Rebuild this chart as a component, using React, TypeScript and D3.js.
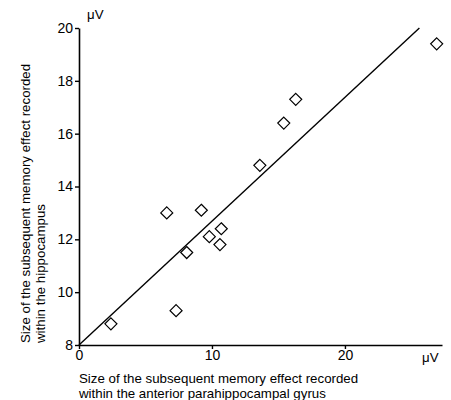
import { useEffect, useRef } from "react";
import * as d3 from "d3";

// parahippocampal effect (x) vs hippocampal effect (y), in μV
const parahipp = [2.4, 7.3, 6.6, 8.1, 9.2, 9.8, 10.7, 10.6, 13.6, 15.4, 16.3, 26.9];
const hippo = [8.8, 9.3, 13.0, 11.5, 13.1, 12.1, 12.4, 11.8, 14.8, 16.4, 17.3, 19.4];
const fitLine = [
  { x: 0, y: 8 },
  { x: 25.6, y: 20 },
];
const xTicks = [0, 10, 20];
const yTicks = [8, 10, 12, 14, 16, 18, 20];

const App = () => {
  const svgRef = useRef<SVGSVGElement>(null);

  useEffect(() => {
    const svg = d3.select(svgRef.current);
    svg.selectAll("*").remove();

    const font = "Liberation Sans, Arial, sans-serif";
    const x = d3.scaleLinear().domain([0, 27.3]).range([79, 442]);
    const y = d3.scaleLinear().domain([8, 20]).range([345, 28]);

    const g = svg.append("g").style("font-family", font).style("font-size", "13.3px");

    // regression line
    g.append("path")
      .attr(
        "d",
        d3
          .line<{ x: number; y: number }>()
          .x((d) => x(d.x))
          .y((d) => y(d.y))(fitLine)
      )
      .attr("stroke", "#000")
      .attr("stroke-width", 1.4)
      .attr("fill", "none");

    // y axis
    const yAxis = g
      .append("g")
      .attr("transform", `translate(${x(0)},0)`)
      .call(d3.axisLeft(y).tickValues(yTicks).tickSize(4).tickPadding(2).tickSizeOuter(0));
    yAxis.select(".domain").attr("stroke-width", 1.6);
    yAxis.selectAll("line").attr("stroke-width", 1.4);
    yAxis.selectAll("text").style("font-family", font).style("font-size", "14px").attr("fill", "#000");

    // x axis
    const xAxis = g
      .append("g")
      .attr("transform", `translate(0,${y(8)})`)
      .call(d3.axisBottom(x).tickValues(xTicks).tickSize(4).tickPadding(1).tickSizeOuter(0));
    xAxis.select(".domain").attr("stroke-width", 1.6);
    xAxis.selectAll("line").attr("stroke-width", 1.4);
    xAxis.selectAll("text").style("font-family", font).style("font-size", "14px").attr("fill", "#000");

    // unit labels
    g.append("text").attr("x", 87).attr("y", 19).text("μV");
    g.append("text").attr("x", 422).attr("y", 362).text("μV");

    // data points as diamonds
    const r = 6;
    g.selectAll(".pt")
      .data(parahipp.map((v, i) => ({ x: v, y: hippo[i] })))
      .enter()
      .append("path")
      .attr("class", "pt")
      .attr("d", (d) => {
        const cx = x(d.x);
        const cy = y(d.y);
        return `M${cx},${cy - r}L${cx + r},${cy}L${cx},${cy + r}L${cx - r},${cy}Z`;
      })
      .attr("fill", "#fff")
      .attr("stroke", "#000")
      .attr("stroke-width", 1.2);

    // x axis title
    g.append("text").attr("x", 79).attr("y", 383).text("Size of the subsequent memory effect recorded");
    g.append("text").attr("x", 79).attr("y", 398).text("within the anterior parahippocampal gyrus");

    // y axis title
    g.append("text")
      .attr("transform", "translate(30,343) rotate(-90)")
      .text("Size of the subsequent memory effect recorded");
    g.append("text")
      .attr("transform", "translate(45,343) rotate(-90)")
      .text("within the hippocampus");
  }, []);

  return (
    <svg
      ref={svgRef}
      width={451}
      height={400}
      style={{ position: "absolute", left: 0, top: 0, background: "#fff" }}
    ></svg>
  );
};

export default App;
